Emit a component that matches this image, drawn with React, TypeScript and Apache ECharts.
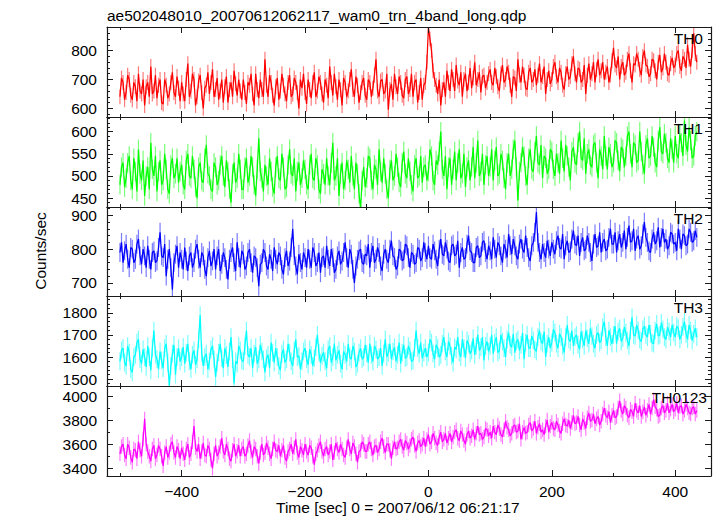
import React, { useEffect, useRef } from "react";
import * as echarts from "echarts";

// Time bins (sec, relative to 2007/06/12 06:21:17)
const T_START = -500;
const T_STEP = 2.5;

const TH0 = [
  640,705,690,630,655,715,700,645,630,690,675,625,720,660,650,700,610,675,690,640,
  745,650,660,715,635,680,700,620,615,700,680,635,650,690,725,655,640,710,670,625,
  690,650,625,700,755,640,660,720,700,610,640,695,715,655,600,670,680,725,650,690,
  735,640,665,705,630,660,700,620,675,710,620,665,690,640,730,685,645,700,660,630,
  700,655,615,690,680,720,650,610,720,665,635,700,665,640,770,680,640,715,690,645,
  610,675,705,630,660,720,680,650,625,690,715,640,650,705,690,655,600,700,670,720,
  655,615,700,665,635,690,725,640,660,710,690,650,620,700,680,635,745,690,645,720,
  675,630,700,665,610,705,690,640,660,700,735,665,640,710,680,620,655,690,705,645,
  630,700,690,640,670,715,770,660,640,695,700,650,660,720,595,665,685,630,720,675,
  650,710,690,645,635,700,710,650,665,720,640,690,700,620,655,705,630,680,690,760,
  880,840,800,730,700,680,650,700,610,665,690,640,730,690,660,735,700,660,750,695,
  680,725,640,700,720,660,690,740,670,705,760,680,700,725,655,710,715,670,690,720,
  735,690,680,740,710,675,660,720,750,690,700,745,725,680,640,710,705,660,770,715,
  690,745,715,670,665,725,740,690,700,735,680,715,755,690,710,745,650,700,730,685,
  700,745,760,710,690,740,725,680,665,720,745,700,710,755,780,720,690,740,735,690,
  700,750,650,715,755,700,720,760,690,735,770,715,730,760,700,725,745,690,715,765,
  810,750,740,780,700,745,760,715,725,770,790,730,690,755,750,790,770,735,715,780,
  800,750,745,710,720,770,765,730,700,760,785,725,740,790,760,720,715,755,775,740,
  750,790,800,745,730,780,770,740,820,770,745,800,860,790,760,
];

const TH1 = [
  480,520,530,475,495,530,545,490,470,540,510,465,560,505,490,535,455,500,520,470,
  575,515,500,545,465,510,535,480,490,550,515,470,460,525,540,495,505,540,485,510,
  525,480,470,535,550,500,495,545,515,475,450,520,530,490,485,540,570,505,500,470,
  465,530,520,480,490,525,545,500,475,535,510,470,440,505,530,485,495,550,515,470,
  470,520,540,485,500,545,520,480,455,515,585,510,495,465,525,500,480,540,510,475,
  460,520,545,495,490,550,520,470,475,525,560,505,500,540,465,510,530,480,495,535,
  515,480,470,525,550,495,490,540,525,470,460,515,505,480,540,500,480,530,575,490,
  500,540,455,505,530,470,490,535,515,485,545,500,470,530,505,460,425,490,520,475,
  495,545,540,490,470,525,515,480,560,510,485,540,505,470,450,515,535,490,500,550,
  520,485,475,530,555,505,495,540,510,480,465,525,540,495,500,545,485,520,525,490,
  510,560,545,490,480,535,525,555,600,515,500,545,470,520,540,480,515,555,490,530,
  560,495,505,550,475,520,535,490,520,565,495,530,580,500,510,550,480,525,545,500,
  520,560,490,535,565,500,505,550,535,495,470,530,550,500,515,560,580,520,445,510,
  530,565,545,500,480,540,560,515,510,555,590,530,525,570,495,545,540,505,515,560,
  555,515,500,550,530,505,580,540,510,570,545,520,490,555,565,530,525,575,600,540,
  535,585,505,550,560,525,520,570,575,530,495,560,545,515,590,545,515,565,550,520,
  530,580,575,535,510,565,560,520,545,590,600,550,520,575,570,530,535,600,555,525,
  505,570,585,540,545,590,565,530,520,580,610,555,550,595,575,540,530,585,560,530,
  590,550,540,595,575,545,625,570,555,610,580,540,545,590,600,
];

const TH2 = [
  790,820,760,795,815,770,745,805,800,760,770,815,830,780,755,800,780,745,810,770,
  740,790,795,760,765,805,850,780,775,815,720,770,800,745,680,760,785,810,745,790,
  770,740,805,765,735,780,790,745,760,800,815,770,745,790,780,740,720,775,795,750,
  765,800,740,780,800,735,755,790,775,740,710,770,790,805,760,735,820,775,745,795,
  785,740,750,790,800,760,730,780,775,745,690,755,760,800,790,750,740,785,770,735,
  805,770,755,790,780,740,725,775,795,750,765,805,860,780,750,725,785,760,740,790,
  775,745,800,770,745,805,790,750,760,790,730,775,780,745,810,770,750,800,775,730,
  740,780,795,755,765,790,820,775,745,800,785,740,700,750,770,795,800,760,755,785,
  780,815,745,790,810,760,770,805,790,750,735,785,800,770,760,800,825,780,775,740,
  750,800,795,765,770,815,810,775,745,790,785,755,760,805,800,765,775,820,790,770,
  810,775,770,815,795,770,750,800,830,785,780,820,800,765,760,810,815,780,785,825,
  745,790,805,770,775,815,840,795,790,760,760,805,810,775,780,820,825,790,770,810,
  795,770,835,800,775,820,810,780,760,815,800,775,845,810,785,830,810,780,770,815,
  830,800,790,840,805,775,765,810,820,850,910,820,790,770,815,790,775,825,800,780,
  820,800,785,825,840,805,800,845,770,810,825,790,795,830,855,815,810,840,780,820,
  835,795,800,840,820,790,765,815,845,805,810,850,790,820,830,795,800,835,860,815,
  815,850,790,825,845,805,820,855,800,835,870,820,825,860,795,830,840,800,810,845,
  880,835,820,795,790,830,850,815,825,865,805,835,860,820,830,800,810,850,845,815,
  820,795,860,830,800,845,840,810,815,860,850,820,825,855,835,
];

const TH3 = [
  1580,1630,1640,1575,1560,1650,1620,1545,1530,1600,1610,1665,1680,1590,1570,1635,1600,1555,1650,1600,
  1540,1640,1720,1610,1590,1545,1625,1585,1550,1640,1660,1575,1470,1560,1615,1655,1520,1600,1640,1580,
  1600,1645,1570,1620,1660,1580,1545,1610,1630,1565,1590,1680,1790,1620,1560,1600,1615,1545,1580,1635,
  1650,1590,1510,1575,1620,1660,1595,1550,1640,1610,1555,1625,1690,1590,1480,1580,1570,1650,1630,1585,
  1580,1650,1720,1610,1600,1640,1550,1615,1645,1570,1590,1655,1625,1590,1530,1595,1610,1550,1665,1620,
  1575,1640,1600,1560,1540,1615,1635,1575,1590,1660,1620,1580,1560,1630,1680,1600,1605,1545,1580,1625,
  1640,1590,1565,1635,1610,1560,1595,1645,1700,1620,1575,1605,1620,1580,1550,1635,1650,1575,1600,1660,
  1585,1610,1630,1570,1545,1625,1610,1580,1660,1600,1590,1650,1625,1555,1570,1620,1640,1590,1600,1655,
  1615,1575,1660,1610,1580,1650,1635,1590,1600,1640,1560,1615,1680,1600,1620,1660,1590,1625,1645,1580,
  1610,1665,1570,1620,1655,1595,1600,1650,1630,1580,1585,1640,1720,1640,1615,1665,1595,1620,1640,1600,
  1620,1680,1665,1615,1590,1655,1640,1600,1610,1660,1690,1625,1600,1670,1650,1605,1575,1645,1635,1690,
  1620,1600,1680,1640,1595,1675,1660,1615,1630,1685,1610,1650,1700,1630,1645,1690,1585,1650,1670,1625,
  1650,1700,1615,1665,1690,1620,1630,1700,1670,1640,1600,1680,1710,1655,1645,1705,1620,1670,1680,1630,
  1655,1710,1590,1665,1700,1640,1640,1695,1675,1635,1625,1690,1720,1670,1660,1715,1600,1660,1690,1640,
  1665,1725,1710,1660,1640,1705,1690,1650,1620,1690,1745,1680,1670,1720,1650,1690,1700,1655,1635,1715,
  1680,1650,1720,1685,1660,1730,1695,1660,1640,1700,1710,1665,1675,1735,1760,1690,1650,1720,1690,1660,
  1700,1740,1660,1715,1730,1670,1685,1735,1710,1675,1650,1720,1780,1700,1695,1745,1720,1680,1670,1725,
  1740,1700,1690,1745,1705,1665,1660,1720,1750,1695,1700,1755,1725,1690,1680,1735,1715,1690,1745,1710,
  1690,1740,1730,1680,1700,1735,1760,1705,1680,1745,1720,1675,1705,1730,1690,
];

const TH0123 = [
  3520,3580,3600,3510,3480,3600,3570,3490,3450,3560,3550,3480,3620,3550,3500,3640,3810,3600,3540,3500,
  3460,3560,3590,3480,3510,3590,3560,3500,3420,3530,3580,3490,3530,3600,3620,3530,3490,3580,3550,3480,
  3570,3520,3470,3560,3600,3490,3520,3620,3750,3570,3540,3600,3480,3540,3610,3510,3500,3590,3560,3470,
  3400,3520,3590,3500,3530,3580,3650,3540,3510,3600,3560,3480,3460,3550,3600,3500,3540,3590,3500,3560,
  3580,3500,3520,3590,3630,3540,3490,3580,3560,3500,3440,3530,3600,3510,3530,3610,3570,3520,3480,3560,
  3620,3550,3540,3590,3500,3550,3590,3490,3460,3540,3560,3600,3520,3570,3640,3530,3490,3580,3550,3510,
  3600,3540,3510,3590,3570,3500,3430,3520,3550,3590,3620,3540,3500,3560,3580,3510,3540,3600,3470,3530,
  3610,3560,3530,3600,3560,3510,3490,3570,3640,3560,3520,3610,3580,3520,3450,3540,3550,3620,3600,3540,
  3540,3600,3620,3560,3510,3580,3590,3530,3560,3620,3650,3580,3530,3600,3600,3550,3480,3570,3620,3560,
  3570,3620,3640,3580,3550,3630,3610,3560,3590,3640,3660,3590,3540,3610,3630,3580,3600,3650,3580,3640,
  3680,3600,3620,3690,3650,3610,3590,3660,3700,3620,3640,3690,3610,3650,3690,3620,3660,3700,3720,3650,
  3630,3710,3680,3630,3600,3680,3710,3650,3670,3720,3640,3690,3750,3680,3690,3640,3660,3730,3720,3670,
  3700,3650,3750,3700,3680,3760,3730,3680,3660,3720,3790,3740,3720,3670,3690,3750,3760,3700,3710,3770,
  3640,3700,3740,3690,3700,3760,3780,3710,3730,3790,3690,3740,3770,3700,3720,3680,3750,3800,3700,3750,
  3780,3730,3720,3790,3760,3710,3690,3770,3810,3760,3750,3800,3730,3780,3840,3770,3780,3830,3760,3720,
  3810,3780,3730,3820,3860,3790,3800,3850,3770,3810,3830,3760,3790,3850,3900,3840,3820,3870,3780,3840,
  3880,3820,3830,3900,3960,3880,3850,3920,3900,3840,3820,3890,3870,3830,3940,3880,3860,3920,3830,3870,
  3910,3840,3880,3930,3850,3900,3970,3910,3890,3830,3840,3900,3920,3860,3880,3940,3860,3890,3930,3870,
  3890,3940,3860,3910,3920,3850,3880,3930,3900,3860,3850,3900,3910,3850,3880,
];

// Typical half-length of the error bars in each panel (counts/sec)
const ERR = [26, 22, 28, 40, 60];

const PANEL_NAMES = ["TH0", "TH1", "TH2", "TH3", "TH0123"];
const PANEL_DATA = [TH0, TH1, TH2, TH3, TH0123];
const PANEL_COLORS = ["#ff0000", "#00ff00", "#0000ff", "#00ffff", "#ff00ff"];
const ERR_COLORS = ["#ff7a7a", "#7aff7a", "#7a7aff", "#7affff", "#ff7aff"];
const Y_MIN = [570, 430, 661, 1469, 3336];
const Y_MAX = [882, 633, 925, 1876, 4083];
const Y_LABELS = [
  [600, 700, 800],
  [450, 500, 550, 600],
  [700, 800, 900],
  [1500, 1600, 1700, 1800],
  [3400, 3600, 3800, 4000],
];
const Y_MINOR_STEP = [20, 10, 20, 20, 100];

const X_MIN = -521;
const X_MAX = 458;
const X_MAJOR = [-400, -200, 0, 200, 400];
const X_MINOR = [-500, -300, -100, 100, 300];

const TITLE = "ae502048010_20070612062117_wam0_trn_4band_long.qdp";
const X_NAME = "Time [sec] 0 = 2007/06/12 06:21:17";
const Y_NAME = "Counts/sec";

const FONT = "'Liberation Sans', Arial, Helvetica, sans-serif";
const GRID_LEFT = 107;
const GRID_WIDTH = 604;
const TOPS = [27, 117, 207, 296, 386];
const HEIGHTS = [90, 90, 89, 90, 90];
const LABEL_RIGHT = [703, 703, 703, 703, 707];

export default function App() {
  const ref = useRef<HTMLDivElement>(null);

  useEffect(() => {
    if (!ref.current) return;
    const chart = echarts.init(ref.current, null, { renderer: "svg" });

    const grids: any[] = [];
    const xAxes: any[] = [];
    const yAxes: any[] = [];
    const series: any[] = [];
    const graphics: any[] = [];
    const axisColor = "#1a1a1a";

    PANEL_NAMES.forEach((name, i) => {
      grids.push({ left: GRID_LEFT, top: TOPS[i], width: GRID_WIDTH, height: HEIGHTS[i] });
      const last = i === PANEL_NAMES.length - 1;

      const xBase = {
        type: "value",
        gridIndex: i,
        min: X_MIN,
        max: X_MAX,
        splitLine: { show: false },
      };
      const fmt = (v: number) => (v < 0 ? "\u2212" + Math.abs(v) : String(v));
      const xMainIndex = xAxes.length;
      ["bottom", "top"].forEach((pos) => {
        xAxes.push({
          ...xBase,
          position: pos,
          axisLine: { show: true, onZero: false, lineStyle: { color: axisColor, width: 1.2 } },
          axisTick: { show: true, inside: true, length: 6, customValues: X_MAJOR, lineStyle: { color: axisColor } },
          axisLabel: {
            show: last && pos === "bottom",
            customValues: X_MAJOR,
            formatter: fmt,
            margin: 7,
            color: "#000",
            fontSize: 15.5,
            fontFamily: FONT,
          },
          z: 5,
        });
        xAxes.push({
          ...xBase,
          position: pos,
          axisLine: { show: false, onZero: false },
          axisTick: { show: true, inside: true, length: 3, customValues: X_MINOR, lineStyle: { color: axisColor } },
          axisLabel: { show: false },
          z: 5,
        });
      });

      const minors: number[] = [];
      const step = Y_MINOR_STEP[i];
      for (let v = Math.ceil(Y_MIN[i] / step) * step; v <= Y_MAX[i]; v += step) {
        if (!Y_LABELS[i].includes(v)) minors.push(v);
      }
      const yBase = {
        type: "value",
        gridIndex: i,
        min: Y_MIN[i],
        max: Y_MAX[i],
        splitLine: { show: false },
      };
      const yMainIndex = yAxes.length;
      ["left", "right"].forEach((pos) => {
        yAxes.push({
          ...yBase,
          position: pos,
          axisLine: { show: true, onZero: false, lineStyle: { color: axisColor, width: 1.2 } },
          axisTick: { show: true, inside: true, length: 6, customValues: Y_LABELS[i], lineStyle: { color: axisColor } },
          axisLabel: {
            show: pos === "left",
            customValues: Y_LABELS[i],
            formatter: (v: number) => String(v),
            margin: 10,
            color: "#000",
            fontSize: 15.5,
            fontFamily: FONT,
          },
          z: 5,
        });
        yAxes.push({
          ...yBase,
          position: pos,
          axisLine: { show: false, onZero: false },
          axisTick: { show: true, inside: true, length: 3, customValues: minors, lineStyle: { color: axisColor } },
          axisLabel: { show: false },
          z: 5,
        });
      });

      const err = ERR[i];
      const errColor = ERR_COLORS[i];
      const pts = PANEL_DATA[i].map((v, k) => [T_START + k * T_STEP, v]);

      series.push({
        type: "custom",
        name: name + " error",
        xAxisIndex: xMainIndex,
        yAxisIndex: yMainIndex,
        data: pts.map((p) => [p[0], p[1], err]),
        clip: true,
        silent: true,
        z: 1,
        renderItem: (params: any, api: any) => {
          const t = api.value(0);
          const v = api.value(1);
          const e = api.value(2);
          const a = api.coord([t, v - e]);
          const b = api.coord([t, v + e]);
          return {
            type: "line",
            shape: { x1: a[0], y1: a[1], x2: b[0], y2: b[1] },
            style: { stroke: errColor, lineWidth: 1.2 },
          };
        },
      });

      series.push({
        type: "line",
        name,
        xAxisIndex: xMainIndex,
        yAxisIndex: yMainIndex,
        data: pts,
        symbol: "none",
        clip: true,
        lineStyle: { color: PANEL_COLORS[i], width: 1.25 },
        z: 2,
      });

      graphics.push({
        type: "text",
        x: LABEL_RIGHT[i],
        y: TOPS[i] + 11,
        z: 10,
        style: {
          text: name,
          fill: "#000",
          font: `15.5px ${FONT}`,
          textAlign: "right",
          textVerticalAlign: "middle",
        },
      });
    });

    graphics.push({
      type: "text",
      x: 107,
      y: 15,
      style: { text: TITLE, fill: "#000", font: `15.5px ${FONT}`, textAlign: "left", textVerticalAlign: "middle" },
    });
    graphics.push({
      type: "text",
      x: 276,
      y: 507,
      style: { text: X_NAME, fill: "#000", font: `15.5px ${FONT}`, textAlign: "left", textVerticalAlign: "middle" },
    });
    graphics.push({
      type: "text",
      x: 40,
      y: 251,
      rotation: Math.PI / 2,
      style: { text: Y_NAME, fill: "#000", font: `15.5px ${FONT}`, textAlign: "center", textVerticalAlign: "middle" },
    });

    chart.setOption({
      animation: false,
      backgroundColor: "#ffffff",
      grid: grids,
      xAxis: xAxes,
      yAxis: yAxes,
      series,
      graphic: graphics,
    });

    return () => chart.dispose();
  }, []);

  return (
    <div
      ref={ref}
      style={{ position: "fixed", left: 0, top: 0, width: 717, height: 516, background: "#fff" }}
    />
  );
}
